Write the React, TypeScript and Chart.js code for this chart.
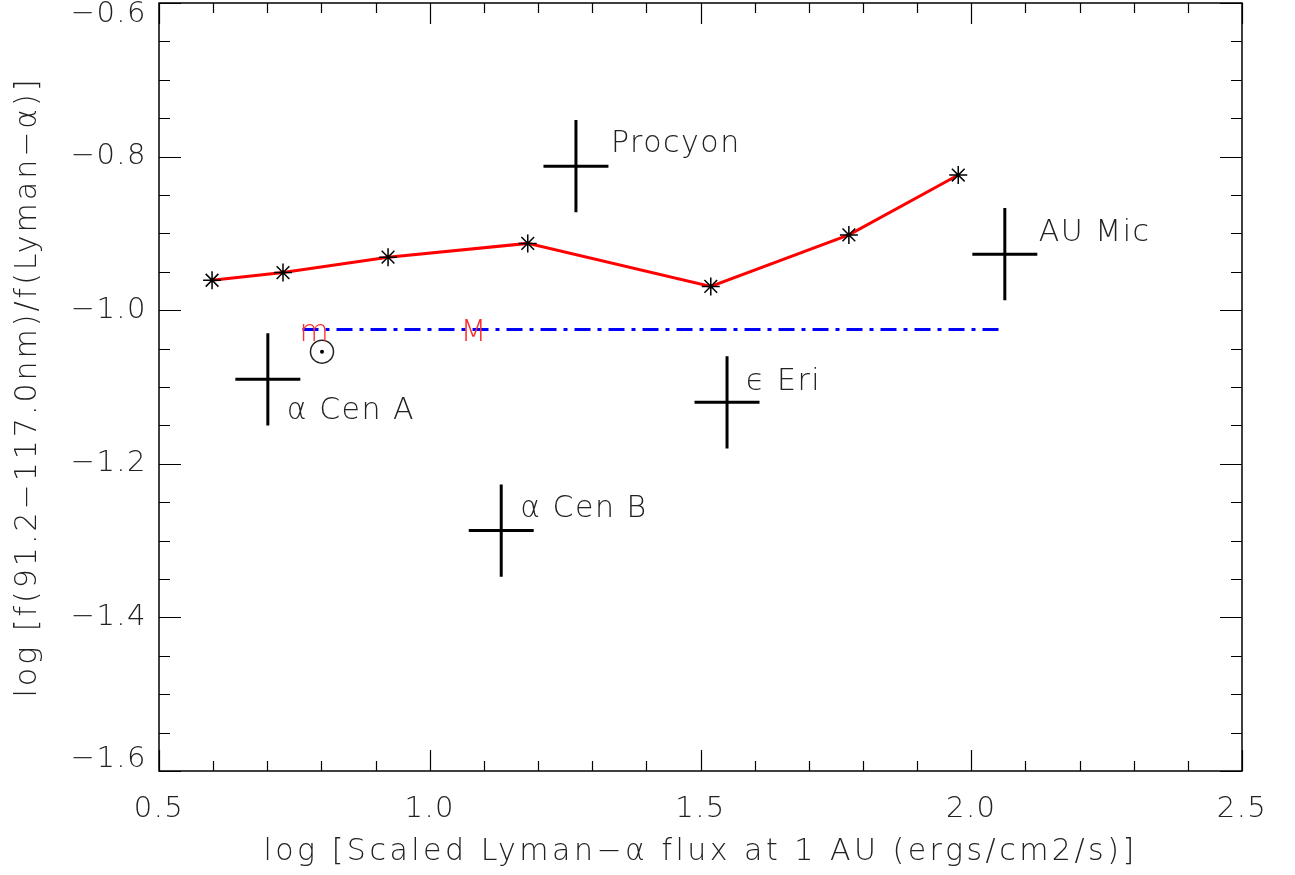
import React, { useEffect, useRef } from 'react';
import { Chart, registerables } from 'chart.js';

Chart.register(...registerables);

// Model curve (red line with asterisks)
const modelX = [0.598, 0.729, 0.923, 1.181, 1.519, 1.774, 1.976];
const modelY = [-0.961, -0.951, -0.931, -0.913, -0.969, -0.902, -0.824];

// Solar range (blue dash-dot line), from solar minimum (m) to maximum (M)
const solarX = [0.765, 2.06];
const solarY = [-1.025, -1.025];
const markLabels = ['m', 'M'];
const markX = [0.788, 1.082];
const markY = [-1.025, -1.025];

// Sun symbol
const sunX = [0.801];
const sunY = [-1.054];

// Stars with error bars
const starNames = ['α Cen A', 'α Cen B', 'Procyon', 'ϵ Eri', 'AU Mic'];
const starX = [0.701, 1.132, 1.27, 1.549, 2.062];
const starY = [-1.09, -1.287, -0.8125, -1.12, -0.927];
const starXErr = [0.06, 0.06, 0.06, 0.06, 0.06];
const starYErr = [0.06, 0.06, 0.06, 0.06, 0.06];

// Axis ranges / ticks
const xMin = 0.5, xMax = 2.5, xMajor = 0.5, xMinor = 0.1;
const yMin = -1.6, yMax = -0.6, yMajor = 0.2, yMinor = 0.05;

const xTitle = 'log [Scaled Lyman−α flux at 1 AU (ergs/cm2/s)]';
const yTitle = 'log [f(91.2−117.0nm)/f(Lyman−α)]';

const FONT = '"DejaVu Sans", sans-serif';
const TEXT = '#222';

// pixel offsets of star labels relative to the star centre
const labelOffsets: [number, number][] = [
  [19, 32],
  [19, -21],
  [35, -22],
  [19, -20],
  [34, -21],
];

const spacedTitle = (scale: any, spacing: string) => {
  if (scale.__patched) return;
  const orig = scale.drawTitle;
  scale.drawTitle = function (...args: any[]) {
    const ctx = this.ctx as any;
    const prev = ctx.letterSpacing;
    ctx.letterSpacing = spacing;
    orig.apply(this, args);
    ctx.letterSpacing = prev;
  };
  scale.__patched = true;
};

const zeroPad = () => ({ left: 0, top: 0, right: 0, bottom: 0 });

const decor = {
  id: 'decor',
  beforeDraw(chart: any) {
    (chart.ctx as any).letterSpacing = '1.5px';
    spacedTitle(chart.scales.x, '3.5px');
    spacedTitle(chart.scales.y, '3px');
  },
  afterDatasetsDraw(chart: any) {
    const { ctx, scales } = chart;
    const x = scales.x, y = scales.y;
    ctx.save();
    ctx.strokeStyle = '#000';
    ctx.lineWidth = 3;
    ctx.lineCap = 'butt';
    starX.forEach((sx, i) => {
      const px = x.getPixelForValue(sx);
      const py = y.getPixelForValue(starY[i]);
      ctx.beginPath();
      ctx.moveTo(x.getPixelForValue(sx - starXErr[i]), py);
      ctx.lineTo(x.getPixelForValue(sx + starXErr[i]), py);
      ctx.moveTo(px, y.getPixelForValue(starY[i] - starYErr[i]));
      ctx.lineTo(px, y.getPixelForValue(starY[i] + starYErr[i]));
      ctx.stroke();
      ctx.fillStyle = TEXT;
      ctx.font = `300 30px ${FONT}`;
      ctx.textAlign = 'left';
      ctx.textBaseline = 'middle';
      ctx.fillText(starNames[i], px + labelOffsets[i][0], py + labelOffsets[i][1]);
    });
    ctx.fillStyle = '#ff2a2a';
    ctx.font = `300 30px ${FONT}`;
    ctx.textAlign = 'center';
    ctx.textBaseline = 'middle';
    markLabels.forEach((t, i) => {
      ctx.fillText(t, x.getPixelForValue(markX[i]), y.getPixelForValue(markY[i]) + 4);
    });
    ctx.restore();
  },
  afterDraw(chart: any) {
    const { ctx, chartArea: a, scales } = chart;
    const x = scales.x, y = scales.y;
    ctx.save();
    ctx.strokeStyle = '#000';
    ctx.lineWidth = 1.5;
    ctx.strokeRect(a.left, a.top, a.right - a.left, a.bottom - a.top);
    ctx.lineWidth = 1.2;
    ctx.beginPath();
    const nx = Math.round((xMax - xMin) / xMinor);
    for (let k = 0; k <= nx; k++) {
      const v = xMin + k * xMinor;
      const major = Math.abs(v / xMajor - Math.round(v / xMajor)) < 1e-6;
      const len = major ? 21 : 10;
      const p = Math.round(x.getPixelForValue(v)) + 0.5;
      ctx.moveTo(p, a.bottom);
      ctx.lineTo(p, a.bottom - len);
      ctx.moveTo(p, a.top);
      ctx.lineTo(p, a.top + len);
    }
    const ny = Math.round((yMax - yMin) / yMinor);
    for (let k = 0; k <= ny; k++) {
      const v = yMin + k * yMinor;
      const major = Math.abs((v - yMin) / yMajor - Math.round((v - yMin) / yMajor)) < 1e-6;
      const len = major ? 22 : 11;
      const p = Math.round(y.getPixelForValue(v)) + 0.5;
      ctx.moveTo(a.left, p);
      ctx.lineTo(a.left + len, p);
      ctx.moveTo(a.right, p);
      ctx.lineTo(a.right - len, p);
    }
    ctx.stroke();
    ctx.restore();
  },
};

export default function App() {
  const ref = useRef<HTMLCanvasElement | null>(null);
  useEffect(() => {
    document.body.style.margin = '0';
    const canvas = ref.current!;
    const chart = new Chart(canvas, {
      type: 'scatter',
      data: {
        datasets: [
          {
            label: 'Model',
            type: 'line',
            data: modelX.map((v, i) => ({ x: v, y: modelY[i] })),
            borderColor: '#ff0000',
            borderWidth: 3,
            pointStyle: 'star',
            pointRadius: 9,
            pointBorderColor: '#000',
            pointBorderWidth: 1.5,
            pointBackgroundColor: '#000',
            showLine: true,
            tension: 0,
            fill: false,
          } as any,
          {
            label: 'Solar range',
            type: 'line',
            data: solarX.map((v, i) => ({ x: v, y: solarY[i] })),
            borderColor: '#0000ff',
            borderWidth: 3,
            borderDash: [16, 7, 4, 7],
            pointRadius: 0,
            showLine: true,
            fill: false,
          } as any,
          {
            label: 'Sun',
            data: sunX.map((v, i) => ({ x: v, y: sunY[i] })),
            pointStyle: 'circle',
            pointRadius: 11.5,
            pointBorderColor: '#222',
            pointBorderWidth: 1.5,
            pointBackgroundColor: 'rgba(0,0,0,0)',
          },
          {
            label: 'Sun centre',
            data: sunX.map((v, i) => ({ x: v, y: sunY[i] })),
            pointStyle: 'circle',
            pointRadius: 2,
            pointBorderWidth: 0,
            pointBackgroundColor: '#000',
          },
          {
            label: 'Stars',
            data: starX.map((v, i) => ({ x: v, y: starY[i] })),
            pointRadius: 0,
          },
        ],
      },
      options: {
        responsive: false,
        animation: false,
        events: [],
        layout: { autoPadding: false, padding: { left: 0, top: 3, right: 53, bottom: 0 } },
        plugins: { legend: { display: false }, tooltip: { enabled: false }, title: { display: false } },
        scales: {
          x: {
            type: 'linear',
            min: xMin,
            max: xMax,
            grid: { display: false, drawTicks: false },
            border: { display: false },
            ticks: {
              stepSize: xMajor,
              padding: 21,
              color: TEXT,
              font: { family: FONT, size: 29, weight: '300' as any },
              callback: (v: any) => Number(v).toFixed(1),
            },
            title: {
              display: true,
              text: xTitle,
              color: TEXT,
              font: { family: FONT, size: 30, weight: '300' as any },
              padding: { top: 0, bottom: 5 },
            },
            afterFit: (s: any) => {
              s.height = 104;
              s.paddingLeft = 0;
              s.paddingRight = 0;
              s.paddingTop = 0;
              s.paddingBottom = 0;
              s.getPadding = zeroPad;
            },
          },
          y: {
            type: 'linear',
            min: yMin,
            max: yMax,
            grid: { display: false, drawTicks: false },
            border: { display: false },
            ticks: {
              stepSize: yMajor,
              padding: 12,
              color: TEXT,
              font: { family: FONT, size: 29, weight: '300' as any, lineHeight: 0.78 },
              callback: (v: any) => {
                const n = Number(v);
                const s = (n < 0 ? '−' : '') + Math.abs(n).toFixed(1);
                // keep the end labels inside the frame
                if (Math.abs(n - yMax) < 1e-6) return ['', s];
                if (Math.abs(n - yMin) < 1e-6) return [s, ''];
                return s;
              },
            },
            title: {
              display: true,
              text: yTitle,
              color: TEXT,
              font: { family: FONT, size: 30, weight: '300' as any },
              padding: { top: 10, bottom: 0 },
            },
            afterFit: (s: any) => {
              s.width = 159;
              s.paddingTop = 0;
              s.paddingBottom = 0;
              s.paddingLeft = 0;
              s.paddingRight = 0;
              s.getPadding = zeroPad;
            },
          },
        },
      },
      plugins: [decor],
    });
    return () => chart.destroy();
  }, []);
  return (
    <div style={{ position: 'absolute', left: 0, top: 0, width: 1295, height: 875, background: '#fff' }}>
      <canvas ref={ref} width={1295} height={875} style={{ display: 'block' }} />
    </div>
  );
}
